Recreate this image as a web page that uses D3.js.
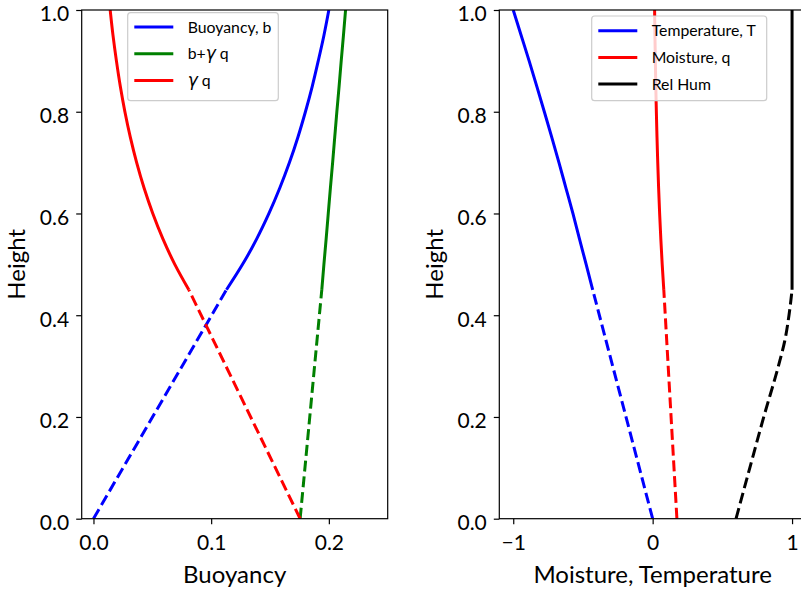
<!DOCTYPE html>
<html>
<head>
<meta charset="utf-8">
<script src="https://cdn.jsdelivr.net/npm/d3@7"></script>
<style>
  html, body { margin: 0; padding: 0; background: #fff; }
  svg { display: block; font-family: Lato, "Open Sans", sans-serif; }
</style>
</head>
<body>
<svg id="chart" width="801" height="593"></svg>
<script>
// Heights: unsaturated layer (dashed) and saturated layer (solid)
const zDry = [0, 0.45];
const zMoist = [0.45, 0.5, 0.55, 0.6, 0.65, 0.7, 0.75, 0.8, 0.85, 0.9, 0.95, 1.0];
const zRH = [0, 0.1, 0.2, 0.3, 0.35, 0.4, 0.45];

// Left panel: buoyancy terms
const bDry = [0, 0.113];
const bMoist = [0.1130, 0.1267, 0.1387, 0.1491, 0.1583, 0.1665, 0.1737, 0.1801, 0.1859, 0.1910, 0.1958, 0.2000];
const gqDry = [0.1756, 0.081];
const gqMoist = [0.0810, 0.0691, 0.0590, 0.0504, 0.0430, 0.0367, 0.0313, 0.0267, 0.0228, 0.0195, 0.0166, 0.0142];
const bgqDry = [0.1756, 0.1940];
const bgqMoist = [0.1940, 0.1958, 0.1977, 0.1995, 0.2013, 0.2032, 0.2050, 0.2068, 0.2087, 0.2105, 0.2124, 0.2142];

// Right panel: temperature, moisture, relative humidity
const TDry = [0, -0.43];
const TMoist = [-0.43, -0.477, -0.525, -0.572, -0.622, -0.672, -0.724, -0.777, -0.831, -0.886, -0.943, -1.0];
const qDry = [0.174, 0.080];
const qMoist = [0.0800, 0.0685, 0.0586, 0.0501, 0.0428, 0.0366, 0.0312, 0.0266, 0.0227, 0.0194, 0.0165, 0.0140];
const rhDry = [0.598, 0.697, 0.797, 0.902, 0.948, 0.978, 1.0];
const rhMoist = [1, 1, 1, 1, 1, 1, 1, 1, 1, 1, 1, 1];

// Axis ticks
const yTicks = [0, 0.2, 0.4, 0.6, 0.8, 1.0];
const xTicksLeft = [0, 0.1, 0.2];
const xTicksRight = [-1, 0, 1];

const svg = d3.select("#chart");
const plotTop = 10, plotBottom = 518.7;
const y = d3.scaleLinear().domain([0, 1]).range([plotBottom, plotTop]);

const panels = [
  {
    x0: 81.7, x1: 387.7, domain: [-0.01, 0.25], ticks: xTicksLeft,
    fmt: d3.format(".1f"), xlabel: "Buoyancy",
    series: [
      { color: "#0000ff", dry: [zDry, bDry], moist: [zMoist, bMoist] },
      { color: "#008000", dry: [zDry, bgqDry], moist: [zMoist, bgqMoist] },
      { color: "#ff0000", dry: [zDry, gqDry], moist: [zMoist, gqMoist] }
    ],
    legend: { x: 127.7, y: 12.7, w: 150.6, h: 88, row0: 27, items: [
      { color: "#0000ff", parts: [["Buoyancy, b", false]] },
      { color: "#008000", parts: [["b+", false], ["γ", true], [" q", false]] },
      { color: "#ff0000", parts: [["γ", true], [" q", false]] }
    ]}
  },
  {
    x0: 499.3, x1: 806, domain: [-1.1, 1.1], ticks: xTicksRight,
    fmt: d => d < 0 ? "\u2212" + Math.abs(d) : String(d), xlabel: "Moisture, Temperature",
    series: [
      { color: "#0000ff", dry: [zDry, TDry], moist: [zMoist, TMoist] },
      { color: "#ff0000", dry: [zDry, qDry], moist: [zMoist, qMoist] },
      { color: "#000000", dry: [zRH, rhDry], moist: [zMoist, rhMoist] }
    ],
    legend: { x: 591.7, y: 16, w: 175, h: 84.7, row0: 30.7, items: [
      { color: "#0000ff", parts: [["Temperature, T", false]] },
      { color: "#ff0000", parts: [["Moisture, q", false]] },
      { color: "#000000", parts: [["Rel Hum", false]] }
    ]}
  }
];

panels.forEach((p, i) => {
  const x = d3.scaleLinear().domain(p.domain).range([p.x0, p.x1]);
  const g = svg.append("g");
  const clipId = "clip" + i;
  svg.append("clipPath").attr("id", clipId)
    .append("rect").attr("x", p.x0).attr("y", plotTop).attr("width", p.x1 - p.x0).attr("height", plotBottom - plotTop);

  const line = d3.line().x(d => x(d[1])).y(d => y(d[0])).curve(d3.curveMonotoneY);
  const pts = (pair) => pair[0].map((z, k) => [z, pair[1][k]]);

  const lines = g.append("g").attr("clip-path", `url(#${clipId})`);
  p.series.forEach(s => {
    lines.append("path").attr("d", line(pts(s.dry)))
      .attr("fill", "none").attr("stroke", s.color).attr("stroke-width", 3)
      .attr("stroke-dasharray", "11,4.8");
    lines.append("path").attr("d", line(pts(s.moist)))
      .attr("fill", "none").attr("stroke", s.color).attr("stroke-width", 3)
      .attr("stroke-linecap", "butt");
  });

  // Axes
  const yAxis = g.append("g").attr("transform", `translate(${p.x0},0)`)
    .call(d3.axisLeft(y).tickValues(yTicks).tickFormat(d3.format(".1f")).tickSize(5.5).tickPadding(7));
  yAxis.selectAll(".tick text").attr("dy", "0.52em");
  const xAxis = g.append("g").attr("transform", `translate(0,${plotBottom})`)
    .call(d3.axisBottom(x).tickValues(p.ticks).tickFormat(p.fmt).tickSize(5.5).tickPadding(10.5));
  [yAxis, xAxis].forEach(a => {
    a.select(".domain").remove();
    a.selectAll(".tick line").attr("stroke", "#000").attr("stroke-width", 1.2);
    a.selectAll(".tick text").attr("font-size", 21).attr("fill", "#000")
      .attr("font-family", "Lato, 'Open Sans', sans-serif");
  });

  // Frame
  g.append("rect").attr("x", p.x0).attr("y", plotTop).attr("width", p.x1 - p.x0).attr("height", plotBottom - plotTop)
    .attr("fill", "none").attr("stroke", "#000").attr("stroke-width", 1.2);

  // Axis labels
  g.append("text").attr("x", (p.x0 + p.x1) / 2).attr("y", 583).attr("text-anchor", "middle")
    .attr("font-size", 24).text(p.xlabel);
  g.append("text").attr("transform", `translate(${p.x0 - 56.7},${(plotTop + plotBottom) / 2}) rotate(-90)`)
    .attr("text-anchor", "middle").attr("font-size", 24).text("Height");

  // Legend
  const L = p.legend;
  const lg = g.append("g");
  lg.append("rect").attr("x", L.x).attr("y", L.y).attr("width", L.w).attr("height", L.h)
    .attr("rx", 3).attr("fill", "#fff").attr("fill-opacity", 0.8)
    .attr("stroke", "#cccccc").attr("stroke-width", 1.2);
  L.items.forEach((it, k) => {
    const ry = L.row0 + k * 26.7;
    lg.append("line").attr("x1", L.x + 6.6).attr("x2", L.x + 45.6).attr("y1", ry).attr("y2", ry)
      .attr("stroke", it.color).attr("stroke-width", 3);
    const t = lg.append("text").attr("x", L.x + 60).attr("y", ry).attr("dy", "0.35em")
      .attr("font-size", 15.8);
    it.parts.forEach(([s, greek]) => {
      const ts = t.append("tspan").text(s);
      if (greek) ts.attr("font-style", "italic").attr("font-family", "'DejaVu Sans', sans-serif").attr("font-size", 17);
    });
  });
});
</script>
</body>
</html>
